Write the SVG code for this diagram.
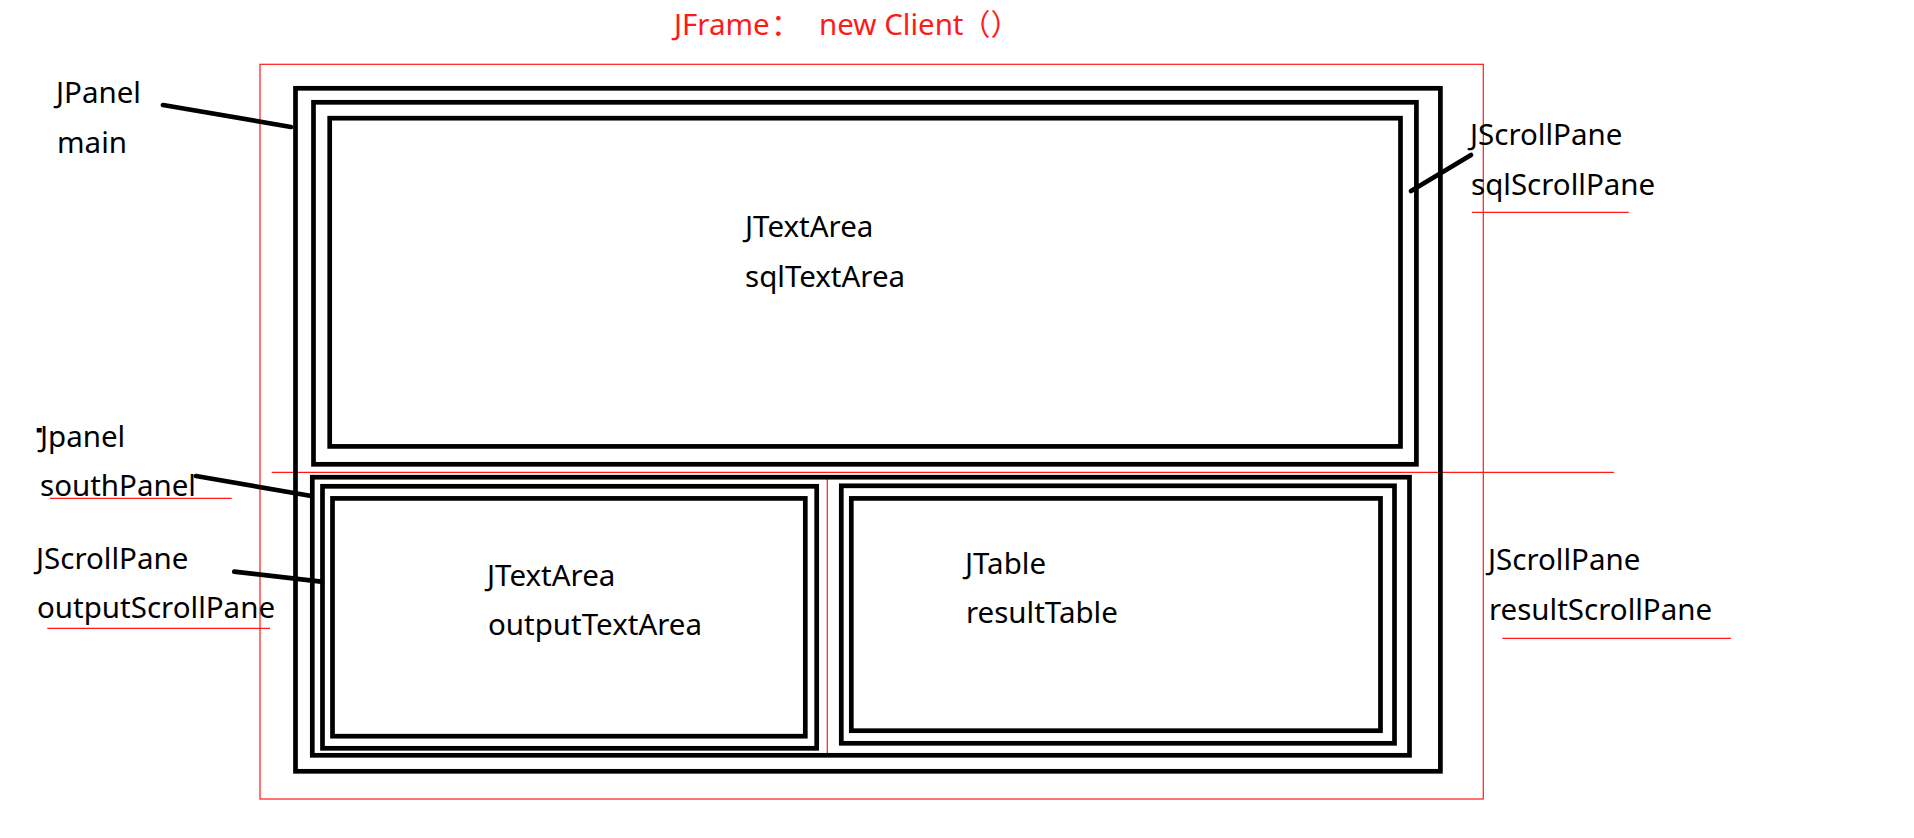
<svg xmlns="http://www.w3.org/2000/svg" width="1914" height="838" viewBox="0 0 1914 838">
<style>
  .bg { fill: #ffffff; }
  .box { fill: none; stroke: #000000; stroke-width: 4.7; }
  .red { fill: none; stroke: #ff1a1a; stroke-width: 1.2; }
  .conn { stroke: #000000; stroke-width: 4.7; stroke-linecap: round; fill: none; }
  .lbl { font-family: "Noto Sans", "Noto Sans CJK SC", sans-serif; font-size: 29.5px; fill: #000000; }
  .title { font-family: "Noto Sans", "Noto Sans CJK SC", sans-serif; font-size: 29.5px; fill: #ff1a1a; }
</style>
<rect class="bg" x="0" y="0" width="1914" height="838"/>

<g id="jframe">
  <rect class="red" x="260" y="64.3" width="1223.3" height="734.7"/>
  <text class="title" x="674" y="35">JFrame<tspan x="771">：</tspan><tspan x="819">new Client</tspan><tspan x="961">（）</tspan></text>
</g>

<g id="guides">
  <line class="red" x1="271.7" y1="472.3" x2="1614" y2="472.3"/>
  <line class="red" x1="827.3" y1="478.3" x2="827.3" y2="755"/>
  <line class="red" x1="1472" y1="212.3" x2="1628.7" y2="212.3"/>
  <line class="red" x1="50" y1="498.3" x2="231.7" y2="498.3"/>
  <line class="red" x1="47.3" y1="628.3" x2="270" y2="628.3"/>
  <line class="red" x1="1502.3" y1="638.3" x2="1731" y2="638.3"/>
</g>

<g id="main">
  <rect class="box" x="295.5" y="88.3" width="1144.9" height="683"/>
  <text class="lbl" x="56" y="103">JPanel</text>
  <text class="lbl" x="57" y="153">main</text>
</g>

<g id="sqlScrollPane">
  <rect class="box" x="313.5" y="102.3" width="1102.9" height="362"/>
  <text class="lbl" x="1470" y="145">JScrollPane</text>
  <text class="lbl" x="1471" y="195">sqlScrollPane</text>
</g>

<g id="sqlTextArea">
  <rect class="box" x="329.7" y="118.2" width="1070.8" height="328.2"/>
  <text class="lbl" x="745" y="237">JTextArea</text>
  <text class="lbl" x="745" y="287">sqlTextArea</text>
</g>

<g id="southPanel">
  <rect class="box" x="312.3" y="477.2" width="1097.2" height="278.1"/>
  <rect x="36.7" y="428" width="5" height="4.5" fill="#000000"/>
  <text class="lbl" x="40" y="446.7">Jpanel</text>
  <text class="lbl" x="40" y="495.7">southPanel</text>
</g>

<g id="outputScrollPane">
  <rect class="box" x="322.5" y="486.3" width="494.2" height="262"/>
  <text class="lbl" x="36" y="569">JScrollPane</text>
  <text class="lbl" x="37" y="618.3">outputScrollPane</text>
</g>

<g id="outputTextArea">
  <rect class="box" x="332.5" y="498.4" width="472.8" height="237.8"/>
  <text class="lbl" x="487" y="586">JTextArea</text>
  <text class="lbl" x="488" y="635">outputTextArea</text>
</g>

<g id="resultScrollPane">
  <rect class="box" x="841.3" y="485.8" width="553.2" height="257.5"/>
  <text class="lbl" x="1488" y="570">JScrollPane</text>
  <text class="lbl" x="1489" y="620">resultScrollPane</text>
</g>

<g id="resultTable">
  <rect class="box" x="851.3" y="498.4" width="529.2" height="232.3"/>
  <text class="lbl" x="965" y="574">JTable</text>
  <text class="lbl" x="966" y="623">resultTable</text>
</g>

<g id="connectors">
  <line class="conn" x1="163" y1="105" x2="291" y2="127"/>
  <line class="conn" x1="1411" y1="191" x2="1471" y2="155"/>
  <line class="conn" x1="196" y1="476" x2="310" y2="495.7"/>
  <line class="conn" x1="234.3" y1="571.7" x2="321" y2="581.7"/>
</g>
</svg>
